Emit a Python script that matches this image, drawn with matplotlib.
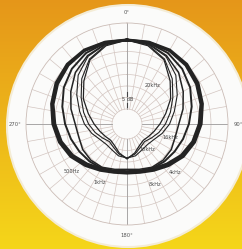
import numpy as np
import matplotlib
matplotlib.use('Agg')
import matplotlib.pyplot as plt
from matplotlib.patches import Circle

# Polar response (dB, 0 = on axis), one side only: 0..180 deg
angles = np.array([0, 15, 30, 45, 60, 75, 90, 105, 120, 135, 150, 165, 180])
db_500hz = [0, 0.3, 0.6, 0.2, -0.9, -2.6, -4.3, -6.1, -8.3, -11.0, -13.3, -14.8, -15.2]
db_1khz = [0, 0.2, 0.3, -0.4, -1.7, -3.3, -5.2, -7.0, -9.3, -12.0, -14.1, -15.4, -15.9]
db_4khz = [0, 0, -0.9, -2.6, -4.8, -7.4, -9.6, -11.3, -12.6, -13.5, -14.3, -15.2, -15.7]
db_8khz = [0, -0.4, -2.2, -4.8, -8.3, -11.3, -14.0, -14.8, -14.3, -14.3, -14.8, -16.1, -16.8]
db_10khz = [0, -0.6, -2.6, -6.5, -11.3, -15.2, -18.0, -20.7, -23.0, -23.9, -23.5, -22.2, -21.7]
db_16khz = [0, -0.9, -3.9, -8.7, -13.5, -17.0, -19.8, -22.2, -24.3, -25.7, -24.8, -23.0, -21.7]
db_20khz = [0, -1.3, -4.3, -10.0, -14.6, -19.1, -22.2, -24.3, -25.7, -26.5, -25.7, -23.5, -21.3]

rings = [-30, -25, -20, -15, -10, -5, 0]
angle_labels = ['0°', '90°', '180°', '270°']

# label positions (deg, dB)
curve_labels = [('20kHz', 33, -16.4), ('500Hz', 229, -4.8), ('1kHz', 205, -8.3),
                ('4kHz', 135, -7.0), ('8kHz', 155, -7.3), ('10kHz', 142, -22.3),
                ('16kHz', 108, -16.9)]

W, H = 242, 249
fig = plt.figure(figsize=(W / 100, H / 100), dpi=100)

# background gradient + white disk
bg = fig.add_axes([0, 0, 1, 1])
top = np.array([0.90, 0.59, 0.10])
bot = np.array([0.96, 0.84, 0.10])
t = np.linspace(0, 1, 256)[:, None, None]
grad = top * (1 - t) + bot * t
grad = np.repeat(grad, 2, axis=1)
bg.imshow(grad, extent=[0, W, H, 0], aspect='auto')
bg.add_patch(Circle((128, 126), 121, fc='#fbfbfa', ec='#f4ecd6', lw=1.5))
bg.set_xlim(0, W)
bg.set_ylim(H, 0)
bg.axis('off')

# polar axes: centre (127,124) px, outer ring 101 px
cx, cy, R = 127, 124, 101
ax = fig.add_axes([(cx - R) / W, (H - cy - R) / H, 2 * R / W, 2 * R / H], projection='polar')
ax.set_facecolor('none')
ax.set_theta_zero_location('N')
ax.set_theta_direction(-1)
ax.set_ylim(-36.52, 7.39)
ax.set_xticks([])
ax.set_yticks([])
ax.grid(False)
ax.spines['polar'].set_color('#cbbcb6')
ax.spines['polar'].set_linewidth(0.6)

gc = '#d3c5c0'
full = np.linspace(0, 2 * np.pi, 361)
for r in rings:
    ax.plot(full, np.full_like(full, r), color=gc, lw=0.5, zorder=1)
for a in range(0, 360, 10):
    th = np.deg2rad(a)
    ax.plot([th, th], [-30, 7.39], color=gc, lw=0.5, zorder=1)
# main axes lines a bit darker
for a in (0, 90, 180, 270):
    th = np.deg2rad(a)
    ax.plot([th, th], [-30, 7.39], color='#a0a0a0', lw=0.6, zorder=1)


def mirror(vals):
    th = np.concatenate([angles, 360 - angles[::-1][1:]])
    v = np.concatenate([vals, np.array(vals)[::-1][1:]])
    return np.deg2rad(th), v


styles = [(db_500hz, 2.2), (db_1khz, 1.9), (db_4khz, 1.4), (db_8khz, 1.1),
          (db_10khz, 0.8), (db_16khz, 0.8), (db_20khz, 0.9)]
for vals, lw in styles:
    th, v = mirror(vals)
    ax.plot(th, v, color='#232323', lw=lw, zorder=3)

for txt, a, r in curve_labels:
    ax.text(np.deg2rad(a), r, txt, fontsize=3.6, color='#444444', ha='center', va='center', zorder=4)

# 5 dB scale marker
ax.text(np.deg2rad(2), -25.7, '5 dB', fontsize=3.6, color='#444444', ha='center', va='center', zorder=4)
ax.plot([0, 0], [-22.6, -24.3], color='#444444', lw=0.8, zorder=4)
ax.plot([0, 0], [-27.4, -29.1], color='#444444', lw=0.8, zorder=4)

for lab, a in zip(angle_labels, (0, 90, 180, 270)):
    ax.text(np.deg2rad(a), 12.0, lab, fontsize=3.8, color='#555555', ha='center', va='center', clip_on=False)

fig.savefig('out.png', dpi=100)
